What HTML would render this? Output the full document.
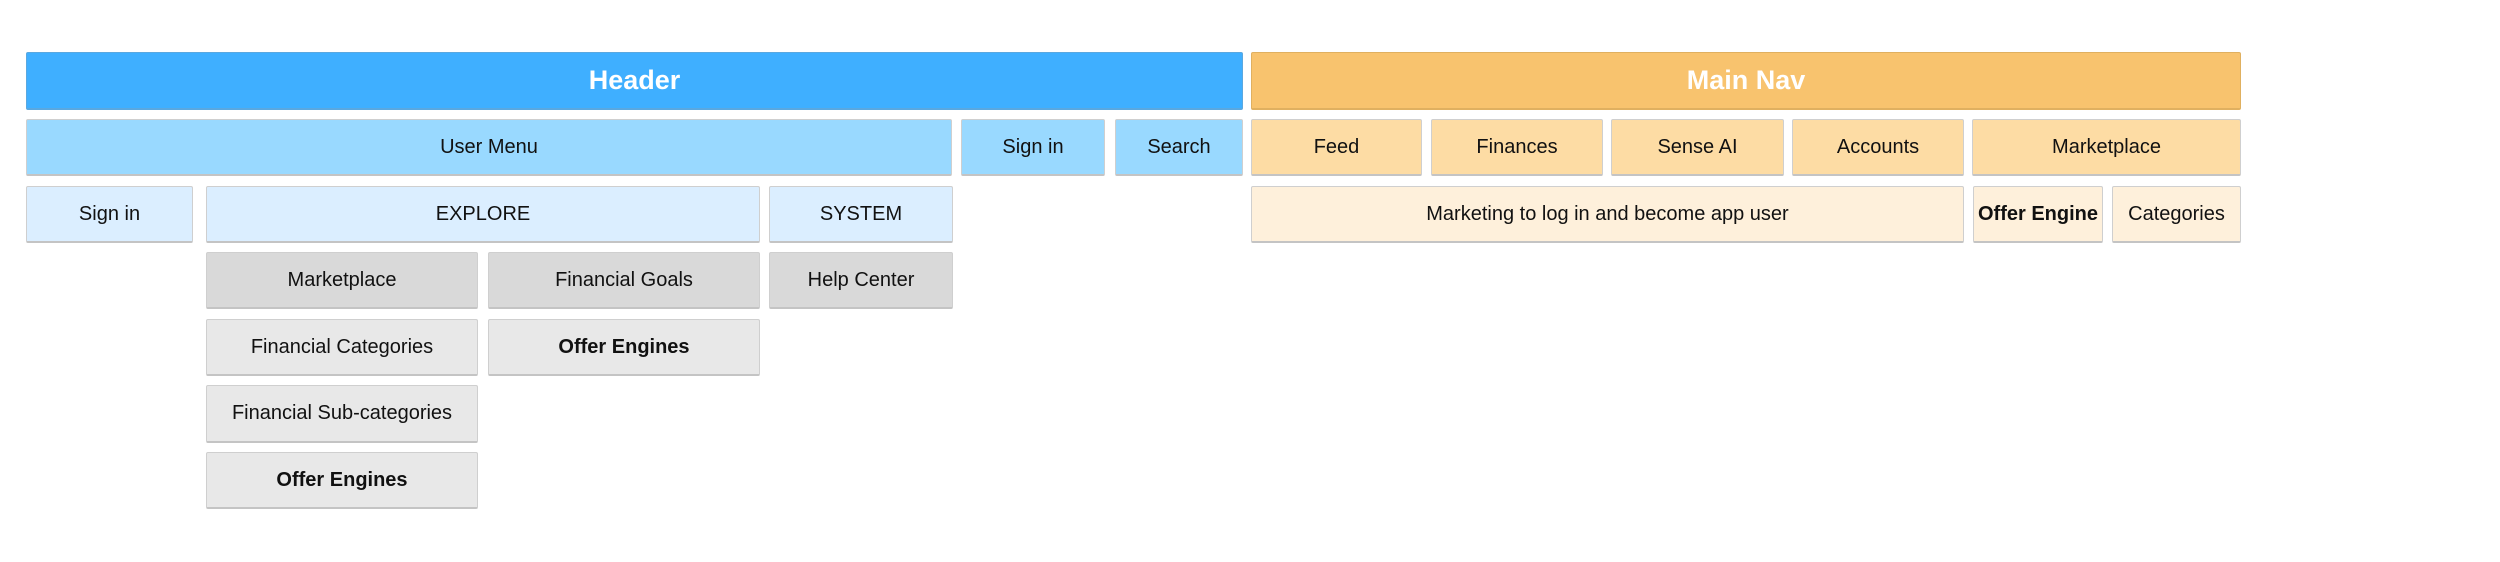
<!DOCTYPE html>
<html><head><meta charset="utf-8"><style>
html,body{margin:0;padding:0;background:#fff;width:2500px;height:562px;overflow:hidden}
.b{position:absolute;box-sizing:border-box;display:flex;align-items:center;justify-content:center;font-family:"Liberation Sans",sans-serif;font-size:20px;color:#111;border:1px solid #cfcfcf;border-bottom:2px solid #c4c4c4;border-radius:2px;white-space:nowrap}
.h{font-size:27px;font-weight:bold;color:#fff}
.bold{font-weight:bold}
.c1{background:#3fafff;border-color:#5aa8e0}
.c2{background:#99d9ff}
.c3{background:#dbeeff}
.g1{background:#d9d9d9}
.g2{background:#e8e8e8}
.o1{background:#f8c36e;border-color:#e0b060}
.o2{background:#fddca4}
.o3{background:#fef0db}
</style></head><body>
<div class="b h c1" style="left:26px;top:52px;width:1217px;height:58px">Header</div>
<div class="b h o1" style="left:1251px;top:52px;width:990px;height:58px">Main Nav</div>

<div class="b c2" style="left:26px;top:119px;width:926px;height:57px">User Menu</div>
<div class="b c2" style="left:961px;top:119px;width:144px;height:57px">Sign in</div>
<div class="b c2" style="left:1115px;top:119px;width:128px;height:57px">Search</div>
<div class="b o2" style="left:1251px;top:119px;width:171px;height:57px">Feed</div>
<div class="b o2" style="left:1431px;top:119px;width:172px;height:57px">Finances</div>
<div class="b o2" style="left:1611px;top:119px;width:173px;height:57px">Sense AI</div>
<div class="b o2" style="left:1792px;top:119px;width:172px;height:57px">Accounts</div>
<div class="b o2" style="left:1972px;top:119px;width:269px;height:57px">Marketplace</div>

<div class="b c3" style="left:26px;top:186px;width:167px;height:57px">Sign in</div>
<div class="b c3" style="left:206px;top:186px;width:554px;height:57px">EXPLORE</div>
<div class="b c3" style="left:769px;top:186px;width:184px;height:57px">SYSTEM</div>
<div class="b o3" style="left:1251px;top:186px;width:713px;height:57px">Marketing to log in and become app user</div>
<div class="b o3 bold" style="left:1973px;top:186px;width:130px;height:57px">Offer Engine</div>
<div class="b o3" style="left:2112px;top:186px;width:129px;height:57px">Categories</div>

<div class="b g1" style="left:206px;top:252px;width:272px;height:57px">Marketplace</div>
<div class="b g1" style="left:488px;top:252px;width:272px;height:57px">Financial Goals</div>
<div class="b g1" style="left:769px;top:252px;width:184px;height:57px">Help Center</div>

<div class="b g2" style="left:206px;top:319px;width:272px;height:57px">Financial Categories</div>
<div class="b g2 bold" style="left:488px;top:319px;width:272px;height:57px">Offer Engines</div>

<div class="b g2" style="left:206px;top:385px;width:272px;height:58px">Financial Sub-categories</div>
<div class="b g2 bold" style="left:206px;top:452px;width:272px;height:57px">Offer Engines</div>
</body></html>
